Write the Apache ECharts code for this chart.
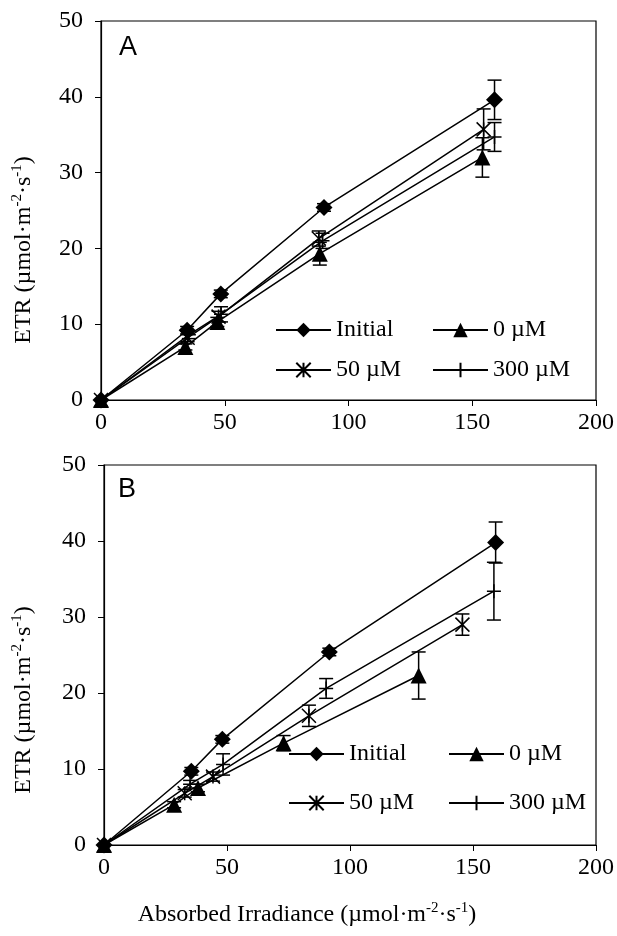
<!DOCTYPE html>
<html>
<head>
<meta charset="utf-8">
<script src="https://cdn.jsdelivr.net/npm/echarts@6/dist/echarts.min.js"></script>
<style>
  html, body { margin: 0; padding: 0; background: #fff; }
  #echarts { width: 617px; height: 936px; }
</style>
</head>
<body>
<div id="echarts"></div>
<script>
// data: [x, y, error]
var seriesNames = ['Initial', '0 µM', '50 µM', '300 µM'];
var xTicks = [0, 50, 100, 150, 200];
var yTicks = [0, 10, 20, 30, 40, 50];

// panel A
var aInitialX = [0, 34.8, 48.4, 90.1, 159];
var aInitialY = [0, 9.2, 14.0, 25.4, 39.6];
var aInitialE = [0, 0.5, 0.5, 0.5, 2.6];
var a0X = [0, 34.1, 47, 88.4, 154.1];
var a0Y = [0, 7.0, 10.3, 19.3, 32.0];
var a0E = [0, 0.4, 0.6, 1.5, 2.6];
var a50X = [0, 35, 47.5, 88, 154.6];
var a50Y = [0, 8.2, 11.0, 21.3, 35.7];
var a50E = [0, 0.5, 0.7, 1.0, 2.7];
var a300X = [0, 35.5, 48.5, 89.5, 159];
var a300Y = [0, 8.6, 11.3, 21.0, 34.7];
var a300E = [0, 0.5, 1.0, 1.0, 1.9];

// panel B
var bInitialX = [0, 35.5, 48.1, 91.6, 159.2];
var bInitialY = [0, 9.7, 13.9, 25.4, 39.8];
var bInitialE = [0, 0.5, 0.5, 0.5, 2.7];
var b0X = [0, 28.5, 38.2, 73, 127.9];
var b0Y = [0, 5.3, 7.5, 13.4, 22.3];
var b0E = [0, 0.4, 0.5, 1.0, 3.1];
var b50X = [0, 32.8, 44.3, 83.3, 145.7];
var b50Y = [0, 6.8, 9.0, 17.0, 29.0];
var b50E = [0, 0.5, 0.6, 1.4, 1.4];
var b300X = [0, 35, 48.4, 90.3, 158.5];
var b300Y = [0, 8.0, 10.6, 20.6, 33.4];
var b300E = [0, 0.5, 1.4, 1.3, 3.8];

var serif = 'Liberation Serif';
var symbols = [
    'diamond',
    'triangle',
    'path://M0,0L10,10M10,0L0,10M5,0L5,10',
    'path://M5,0L5,10M0,5L10,5'
];
var symbolSizes = [17, 16, 14, 14];

function pairs(xs, ys) {
    return xs.map(function (x, i) { return [x, ys[i]]; });
}
function triples(xs, ys, es) {
    return xs.map(function (x, i) { return [x, ys[i], es[i]]; });
}

function lineSeries(k, xs, ys, idx) {
    return {
        name: seriesNames[k],
        type: 'line',
        xAxisIndex: idx,
        yAxisIndex: idx,
        data: pairs(xs, ys),
        symbol: symbols[k],
        symbolSize: symbolSizes[k],
        lineStyle: { color: '#000', width: 1.5 },
        itemStyle: { color: '#000', borderColor: '#000', borderWidth: k >= 2 ? 1.5 : 0 },
        emphasis: { disabled: true },
        z: 3
    };
}

function errorSeries(xs, ys, es, idx) {
    return {
        type: 'custom',
        xAxisIndex: idx,
        yAxisIndex: idx,
        data: triples(xs, ys, es),
        z: 2,
        silent: true,
        renderItem: function (params, api) {
            var x = api.value(0), y = api.value(1), e = api.value(2);
            if (!e) return null;
            var top = api.coord([x, y + e]);
            var bot = api.coord([x, y - e]);
            var w = 7;
            var st = { stroke: '#000', lineWidth: 1.5 };
            return {
                type: 'group',
                children: [
                    { type: 'line', shape: { x1: top[0], y1: top[1], x2: bot[0], y2: bot[1] }, style: st },
                    { type: 'line', shape: { x1: top[0] - w, y1: top[1], x2: top[0] + w, y2: top[1] }, style: st },
                    { type: 'line', shape: { x1: bot[0] - w, y1: bot[1], x2: bot[0] + w, y2: bot[1] }, style: st }
                ]
            };
        }
    };
}

function xAxis(idx) {
    return {
        type: 'value', gridIndex: idx, min: xTicks[0], max: xTicks[xTicks.length - 1], interval: 50,
        axisLine: { show: true, onZero: false, lineStyle: { color: '#000', width: 1.2 } },
        axisTick: { show: true, inside: false, length: 6, lineStyle: { color: '#000' } },
        axisLabel: { color: '#000', fontFamily: serif, fontSize: 24, margin: 11 },
        splitLine: { show: false }
    };
}
function yAxis(idx) {
    return {
        type: 'value', gridIndex: idx, min: yTicks[0], max: yTicks[yTicks.length - 1], interval: 10,
        axisLine: { show: true, lineStyle: { color: '#000', width: 1.2 } },
        axisTick: { show: true, inside: false, length: 6, lineStyle: { color: '#000' } },
        axisLabel: { color: '#000', fontFamily: serif, fontSize: 24, margin: 18 },
        splitLine: { show: false }
    };
}

function legendCol(names, left, top, gap) {
    return {
        data: names, orient: 'vertical', left: left, top: top, padding: 0,
        itemWidth: 55, itemHeight: 18, itemGap: gap, selectedMode: false,
        textStyle: { color: '#000', fontFamily: serif, fontSize: 24, lineHeight: 24 }
    };
}

var supRich = {
    base: { fontFamily: serif, fontSize: 24, color: '#000', lineHeight: 28 },
    sup: { fontFamily: serif, fontSize: 15, color: '#000', lineHeight: 28, verticalAlign: 'top' }
};
var unitText = '{base|(µmol·m}{sup|-2}{base|·s}{sup|-1}{base|)}';

function rotatedLabel(x, y) {
    return {
        type: 'text', x: x, y: y, rotation: Math.PI / 2,
        style: { text: '{base|ETR }' + unitText, rich: supRich, align: 'center', verticalAlign: 'middle' }
    };
}

var myChart = echarts.init(document.getElementById('echarts'));
var option = {
    animation: false,
    backgroundColor: '#fff',
    grid: [
        { left: 101, top: 21, width: 496, height: 379, show: true, borderColor: '#000', borderWidth: 1.2 },
        { left: 104, top: 465, width: 493, height: 380, show: true, borderColor: '#000', borderWidth: 1.2 }
    ],
    xAxis: [xAxis(0), xAxis(1)],
    yAxis: [yAxis(0), yAxis(1)],
    legend: [
        legendCol([seriesNames[0], seriesNames[2]], 275, 318, 16),
        legendCol([seriesNames[1], seriesNames[3]], 432, 318, 16),
        legendCol([seriesNames[0], seriesNames[2]], 288, 742, 25),
        legendCol([seriesNames[1], seriesNames[3]], 448, 742, 25)
    ],
    graphic: [
        { type: 'text', x: 128, y: 48, style: { text: 'A', fontFamily: 'Liberation Sans', fontSize: 27, fill: '#000', align: 'center', verticalAlign: 'middle' } },
        { type: 'text', x: 127, y: 490, style: { text: 'B', fontFamily: 'Liberation Sans', fontSize: 27, fill: '#000', align: 'center', verticalAlign: 'middle' } },
        rotatedLabel(24, 250),
        rotatedLabel(24, 700),
        { type: 'text', x: 307, y: 915,
          style: { text: '{base|Absorbed Irradiance }' + unitText, rich: supRich, align: 'center', verticalAlign: 'middle' } }
    ],
    series: [
        errorSeries(aInitialX, aInitialY, aInitialE, 0),
        errorSeries(a0X, a0Y, a0E, 0),
        errorSeries(a50X, a50Y, a50E, 0),
        errorSeries(a300X, a300Y, a300E, 0),
        lineSeries(0, aInitialX, aInitialY, 0),
        lineSeries(1, a0X, a0Y, 0),
        lineSeries(2, a50X, a50Y, 0),
        lineSeries(3, a300X, a300Y, 0),
        errorSeries(bInitialX, bInitialY, bInitialE, 1),
        errorSeries(b0X, b0Y, b0E, 1),
        errorSeries(b50X, b50Y, b50E, 1),
        errorSeries(b300X, b300Y, b300E, 1),
        lineSeries(0, bInitialX, bInitialY, 1),
        lineSeries(1, b0X, b0Y, 1),
        lineSeries(2, b50X, b50Y, 1),
        lineSeries(3, b300X, b300Y, 1)
    ]
};
myChart.setOption(option);
</script>
</body>
</html>
